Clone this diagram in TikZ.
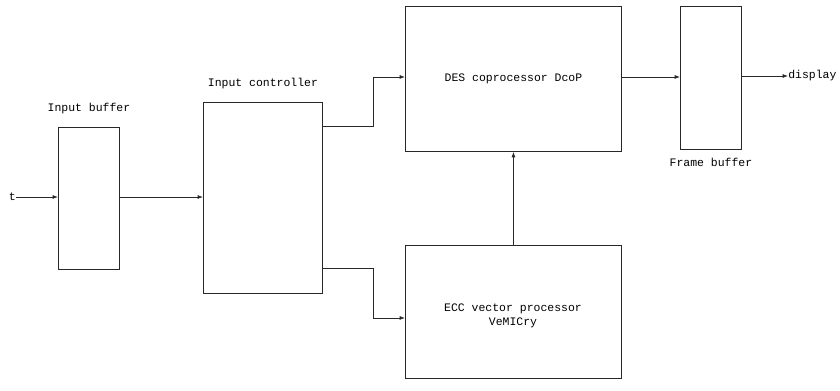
\documentclass[tikz,border=0pt]{standalone}
\usepackage{fontspec}
\setmonofont{Liberation Mono}
\usepackage{tikz}
\usetikzlibrary{arrows.meta, positioning, calc}
\definecolor{line1}{RGB}{40, 40, 40}

\begin{document}
\begin{tikzpicture}[x=0.75pt, y=-0.75pt,
  font=\ttfamily\fontsize{8.6}{10.5}\selectfont,
  blockbox/.style={draw=line1, line width=0.7pt, inner sep=0pt, anchor=north west},
  arr/.style={draw=line1, line width=0.6pt, -{Latex[length=4pt, width=3pt]}}]
  \useasboundingbox (0,0) rectangle (840,390);

  % blocks
  \node[blockbox, minimum width=61*0.75pt, minimum height=142*0.75pt] (inbuf) at (58,127) {};
  \node[blockbox, minimum width=119*0.75pt, minimum height=191*0.75pt] (inctrl) at (203,102) {};
  \node[blockbox, minimum width=216*0.75pt, minimum height=145*0.75pt, align=center] (des) at (405,6) {DES coprocessor DcoP};
  \node[blockbox, minimum width=216*0.75pt, minimum height=133*0.75pt] (ecc) at (405,245) {};
  \node[align=center] (ecctxt) at (513,316) {ECC vector processor\\VeMICry};
  \node[blockbox, minimum width=61*0.75pt, minimum height=143*0.75pt] (frbuf) at (680,6) {};

  % captions
  \node[above=6pt of inbuf] (inbuflbl) {Input buffer};
  \node[above=6pt of inctrl] (inctrllbl) {Input controller};
  \node[below=3pt of frbuf] (frbuflbl) {Frame buffer};
  \node[anchor=east, inner sep=0pt] (inlbl) at (16,197) {t};
  \node[anchor=west, inner sep=0pt] (disp) at (788,76) {display};

  % connections
  \draw[arr] (inlbl.east) -- (inlbl.east -| inbuf.west);
  \draw[arr] (inbuf.east |- inlbl.east) -- (inlbl.east -| inctrl.west);
  \draw[arr] ($(inctrl.north east)+(0,24)$) -- ++(50,0) |- ($(des.west)+(0,-2)$);
  \draw[arr] ($(inctrl.south east)+(0,-26)$) -- ++(50,0) |- ($(ecc.west)+(0,6)$);
  \draw[arr] (ecc.north) -- (des.south);
  \draw[arr] ($(des.east)+(0,-2)$) -- ($(des.east -| frbuf.west)+(0,-2)$);
  \draw[arr] (disp.west -| frbuf.east) -- (disp.west);
\end{tikzpicture}
\end{document}
